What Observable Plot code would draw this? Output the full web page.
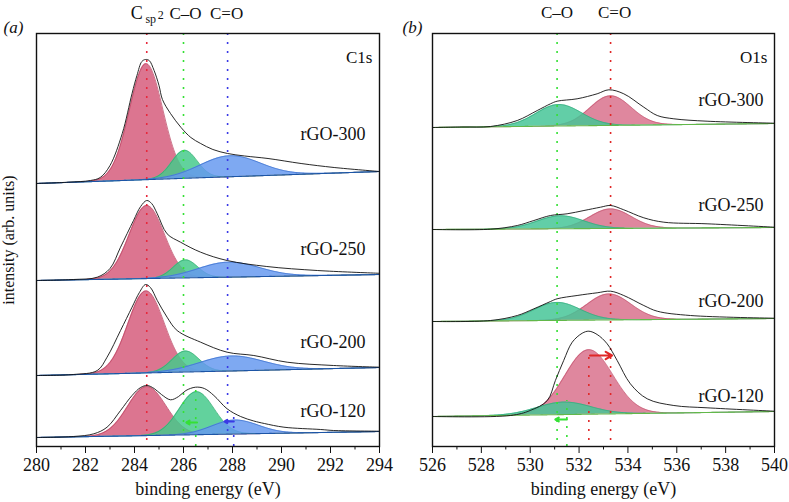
<!DOCTYPE html>
<html><head><meta charset="utf-8">
<script src="https://cdn.jsdelivr.net/npm/d3@7"></script>
<script src="https://cdn.jsdelivr.net/npm/@observablehq/plot@0.6"></script>
<style>
body{margin:0;background:#fff;}
#chart{display:flex;width:789px;height:502px;overflow:hidden;}
#chart svg, #chart svg text{font-family:"Liberation Serif","Times New Roman",serif !important;}
</style>
</head><body><div id="chart"></div>
<script>
// ---------- shared ----------
const samples = ["rGO-300", "rGO-250", "rGO-200", "rGO-120"];

// ---------- (a) C1s ----------
const c1sTicks = [280, 282, 284, 286, 288, 290, 292, 294];
const c1sMinorTicks = [281, 283, 285, 287, 289, 291, 293];
const c1sComponents = ["Csp2", "C–O", "C=O"];
const c1sPeakLines = [284.5, 286.0, 287.8];
const c1sBaseStart = [263, 166, 71, 9];      // background at 280 eV
const c1sBaseEnd = [275, 172, 79, 15];       // background at 294 eV
const c1sCenters = [[284.47, 286.04, 287.9], [284.5, 286.08, 287.85], [284.47, 286.08, 287.95], [284.5, 286.53, 288.1]];
const c1sHeights = [[116, 28, 21], [73, 18, 15], [82, 21, 15], [49, 43, 14]];
const c1sSigmas = [[0.68, 0.52, 1.23], [0.72, 0.5, 1.25], [0.74, 0.55, 1.3], [0.78, 0.71, 0.95]];
const c1sLabelY = [312, 197, 104, 35];
const c1s300 = [[280,263],[281.3,264.3],[282.2,266],[282.6,269],[283,281],[283.5,313],[283.9,353],[284.1,371],[284.3,385],[284.45,387],[284.6,386],[284.8,376],[285,361],[285.14,347],[285.47,333],[285.9,319],[286.3,309],[286.7,303],[287.2,297],[287.8,293],[288.5,290.5],[289.45,288],[290.8,283],[292.15,279],[294,275]];
const c1s250 = [[280,166],[281.5,167],[282.48,169.3],[283,178],[283.43,199.3],[283.96,226],[284.25,240],[284.5,246],[284.7,243],[284.93,232.7],[285.33,212.7],[285.88,204.3],[286.7,194.3],[287.78,186],[289.4,180],[291.46,176],[293.9,173.3],[294,173.2]];
const c1s200 = [[280,71],[281.5,72],[282.48,76],[282.88,89.3],[283.43,116],[283.9,139.3],[284.2,154],[284.45,162],[284.65,159],[284.93,146],[285.33,129.3],[285.74,116],[286.7,104.3],[287.78,94.3],[288.87,91],[290.23,84.3],[292.13,81],[294,79.3]];
const c1s120 = [[280,9],[281.5,10],[282.34,12.7],[282.88,19.3],[283.43,36],[283.9,51],[284.25,59],[284.52,61],[284.8,58],[285.1,52],[285.47,46.7],[285.8,50],[286.1,56],[286.49,59.3],[286.85,58],[287.24,51],[287.78,37.7],[288.33,30],[288.87,25.5],[289.3,23],[290.1,19.3],[291.6,17],[292.13,16],[294,15.3]];
const c1sShiftLines = [[286.5, 0, 56, "C–O"], [288.05, 0, 29, "C=O"]];
const c1sArrows = [[286.55, 286.12, 24, "C–O"], [288.05, 287.68, 25, "C=O"]];

// ---------- (b) O1s ----------
const o1sTicks = [526, 528, 530, 532, 534, 536, 538, 540];
const o1sMinorTicks = [527, 529, 531, 533, 535, 537, 539];
const o1sComponents = ["C=O", "C–O"];
const o1sPeakLines = [533.29, 531.1];
const o1sBaseStart = [319, 217, 125, 30];
const o1sBaseEnd = [323, 219, 128, 35];
const o1sCenters = [[533.29, 531.17], [533.29, 531.24], [533.22, 531.1], [532.4, 531.38]];
const o1sHeights = [[29.6, 21.5], [19.5, 13], [26, 18], [64.5, 12.5]];
const o1sSigmas = [[0.84, 0.93], [0.85, 0.95], [0.9, 0.95], [0.98, 1.1]];
const o1sLabelY = [346, 241, 145, 50];
const o1s300 = [[526,319],[527.2,319.5],[528.37,320],[529.47,326],[530.29,336],[530.83,342.7],[531.1,345.3],[531.92,347.7],[532.74,352.7],[533.22,356.7],[533.83,352.7],[534.65,339.3],[535.2,331],[535.88,327.7],[537.24,325.3],[540,323.3]];
const o1s250 = [[526,217],[528.37,217.3],[529.47,221],[530.15,226],[530.83,231],[531.51,232.7],[532.2,236],[532.88,239.3],[533.29,241],[533.83,236.7],[534.65,228.7],[535.47,224.3],[537.24,222.7],[540,219.3]];
const o1s200 = [[526,125],[528.37,126],[529.47,131],[530.15,137.7],[530.83,145],[531.1,147.7],[531.92,151],[532.74,153.7],[533.29,155.3],[533.83,151],[534.65,141],[535.2,135.3],[536.56,131],[540,128.3]];
const o1s120 = [[526,30],[529.19,31],[530,36],[530.7,46],[531.03,66],[531.37,86],[531.72,104.3],[532.13,113.3],[532.4,115.3],[532.74,112],[533.15,102.7],[533.56,86],[534.1,62.7],[534.79,47.7],[535.88,41],[537.24,38.7],[540,35.3]];
const o1sShiftLines = [[532.4, 6, 91, "C=O"], [531.5, 0, 46, "C–O"]];
const o1sArrows = [[532.45, 533.35, 91, "C=O"], [531.5, 531.03, 27, "C–O"]];

// ---------- colours ----------
const c1sFill = {"Csp2": "#d55b7b", "C–O": "#44c98a", "C=O": "#6598ef"};
const c1sEdge = {"Csp2": "#b8405e", "C–O": "#2aa86a", "C=O": "#3468c8"};
const c1sDots = {"Csp2": "#e8283c", "C–O": "#35e035", "C=O": "#3a3ae6"};
const o1sFill = {"C=O": "#d9708c", "C–O": "#44c596"};
const o1sEdge = {"C=O": "#c0506c", "C–O": "#2ea878"};
const o1sDots = {"C=O": "#e02828", "C–O": "#35e035"};

const FONT = "Liberation Serif, Times New Roman, serif";

function panel(cfg) {
  const [x0, x1] = cfg.domain;
  const base = (i, x) => cfg.baseStart[i] + (cfg.baseEnd[i] - cfg.baseStart[i]) * (x - x0) / (x1 - x0);
  const grid = d3.range(x0, x1 + 1e-9, 0.04);
  const comps = [];
  samples.forEach((s, i) => cfg.components.forEach((name, j) => {
    const c = cfg.centers[i][j], h = cfg.heights[i][j], sg = cfg.sigmas[i][j];
    grid.forEach(x => {
      const b = base(i, x);
      comps.push({s, name, x, b, v: b + h * Math.exp(-((x - c) ** 2) / (2 * sg * sg))});
    });
  }));
  const env = [];
  samples.forEach((s, i) => cfg.envelopes[i].forEach(([x, y]) => env.push({s, x, y})));
  const marks = [];
  cfg.components.forEach(name => {
    const d = comps.filter(e => e.name === name);
    marks.push(Plot.areaY(d, {x: "x", y1: "b", y2: "v", z: "s", fill: cfg.fill[name], fillOpacity: 0.84}));
    marks.push(Plot.lineY(d, {x: "x", y: "v", z: "s", stroke: cfg.edge[name], strokeWidth: 0.7}));
  });
  marks.push(Plot.lineY(comps.filter(e => e.name === cfg.components[0]), {x: "x", y: "b", z: "s", stroke: cfg.baseColor, strokeWidth: 1.1}));
  marks.push(Plot.ruleX(cfg.peakLines.map((x, k) => ({x, name: cfg.components[k]})), {x: "x", stroke: d => cfg.dots[d.name], strokeWidth: 1.6, strokeDasharray: "2,7"}));
  marks.push(Plot.ruleX(cfg.shiftLines, {x: d => d[0], y1: d => d[1], y2: d => d[2], stroke: d => cfg.dots[d[3]], strokeWidth: 1.6, strokeDasharray: "2,7"}));
  marks.push(Plot.line(env, {x: "x", y: "y", z: "s", stroke: "#111", strokeWidth: 0.9, curve: "catmull-rom"}));
  marks.push(Plot.arrow(cfg.arrows, {x1: d => d[0], x2: d => d[1], y1: d => d[2], y2: d => d[2], stroke: d => cfg.dots[d[3]], strokeWidth: 2.2, headLength: 6}));
  marks.push(Plot.text(samples, {x: x1, y: (d, i) => cfg.labelY[i], text: d => d, textAnchor: "end", dx: cfg.labelDx, fontSize: 18, fill: "#111", fontFamily: FONT}));
  marks.push(Plot.text([cfg.core], {frameAnchor: "top-right", dx: -7, dy: 17, textAnchor: "end", fontSize: 17, fill: "#111", fontFamily: FONT}));
  marks.push(Plot.text([cfg.tag], {frameAnchor: "top-left", dx: cfg.tagDx, dy: -1, lineAnchor: "bottom", textAnchor: "middle", fontSize: 17, fontStyle: "italic", fill: "#111", fontFamily: FONT}));
  cfg.headers.forEach(h => marks.push(Plot.text([h.t], {x: h.x, frameAnchor: "top", dx: h.dx, dy: h.dy, lineAnchor: "bottom", textAnchor: "middle", fontSize: h.fs, fill: "#111", fontFamily: FONT})));
  marks.push(Plot.axisX({ticks: cfg.ticks, tickSize: 7, tickPadding: 5, fontSize: 18, label: null, stroke: "#111", fill: "#111", fontFamily: FONT}));
  marks.push(Plot.axisX({ticks: cfg.minor, tickSize: 3.5, tickFormat: () => "", label: null, stroke: "#111"}));
  marks.push(Plot.text(["binding energy (eV)"], {frameAnchor: "bottom", dy: 48, lineAnchor: "bottom", textAnchor: "middle", fontSize: 18, fill: "#111", fontFamily: FONT}));
  if (cfg.ylabel) marks.push(Plot.text([cfg.ylabel], {frameAnchor: "left", dx: -28, rotate: -90, textAnchor: "middle", lineAnchor: "middle", fontSize: 16, fill: "#111", fontFamily: FONT}));
  marks.push(Plot.frame({stroke: "#111", strokeWidth: 1.4}));
  return Plot.plot({
    width: cfg.width, height: 502,
    marginLeft: cfg.ml, marginRight: cfg.mr, marginTop: 33, marginBottom: 56,
    x: {domain: cfg.domain},
    y: {domain: [0, 413], axis: null},
    style: {fontFamily: FONT, background: "white", overflow: "visible"},
    marks
  });
}

const left = panel({
  domain: [280, 294], width: 400, ml: 36, mr: 21,
  components: c1sComponents, peakLines: c1sPeakLines,
  baseStart: c1sBaseStart, baseEnd: c1sBaseEnd,
  centers: c1sCenters, heights: c1sHeights, sigmas: c1sSigmas,
  envelopes: [c1s300, c1s250, c1s200, c1s120],
  labelY: c1sLabelY, labelDx: -14,
  shiftLines: c1sShiftLines, arrows: c1sArrows,
  fill: c1sFill, edge: c1sEdge, dots: c1sDots, baseColor: "#1d55a6",
  ticks: c1sTicks, minor: c1sMinorTicks,
  core: "C1s", tag: "(a)", tagDx: -23,
  ylabel: "intensity (arb. units)",
  headers: [
    {t: "C", x: 284.5, dx: -10, dy: -15, fs: 18},
    {t: "sp", x: 284.5, dx: 4, dy: -11, fs: 12},
    {t: "2", x: 284.5, dx: 14, dy: -15, fs: 12},
    {t: "C–O", x: 286.0, dx: 2, dy: -15, fs: 17},
    {t: "C=O", x: 287.8, dx: -1, dy: -15, fs: 17}
  ]
});
const right = panel({
  domain: [526, 540], width: 389, ml: 32, mr: 15,
  components: o1sComponents, peakLines: o1sPeakLines,
  baseStart: o1sBaseStart, baseEnd: o1sBaseEnd,
  centers: o1sCenters, heights: o1sHeights, sigmas: o1sSigmas,
  envelopes: [o1s300, o1s250, o1s200, o1s120],
  labelY: o1sLabelY, labelDx: -11,
  shiftLines: o1sShiftLines, arrows: o1sArrows,
  fill: o1sFill, edge: o1sEdge, dots: o1sDots, baseColor: "#62b84a",
  ticks: o1sTicks, minor: o1sMinorTicks,
  core: "O1s", tag: "(b)", tagDx: -20,
  ylabel: null,
  headers: [
    {t: "C–O", x: 531.1, dx: 0, dy: -16, fs: 17},
    {t: "C=O", x: 533.29, dx: 4, dy: -16, fs: 17}
  ]
});
document.getElementById("chart").append(left, right);
</script>
</body></html>
